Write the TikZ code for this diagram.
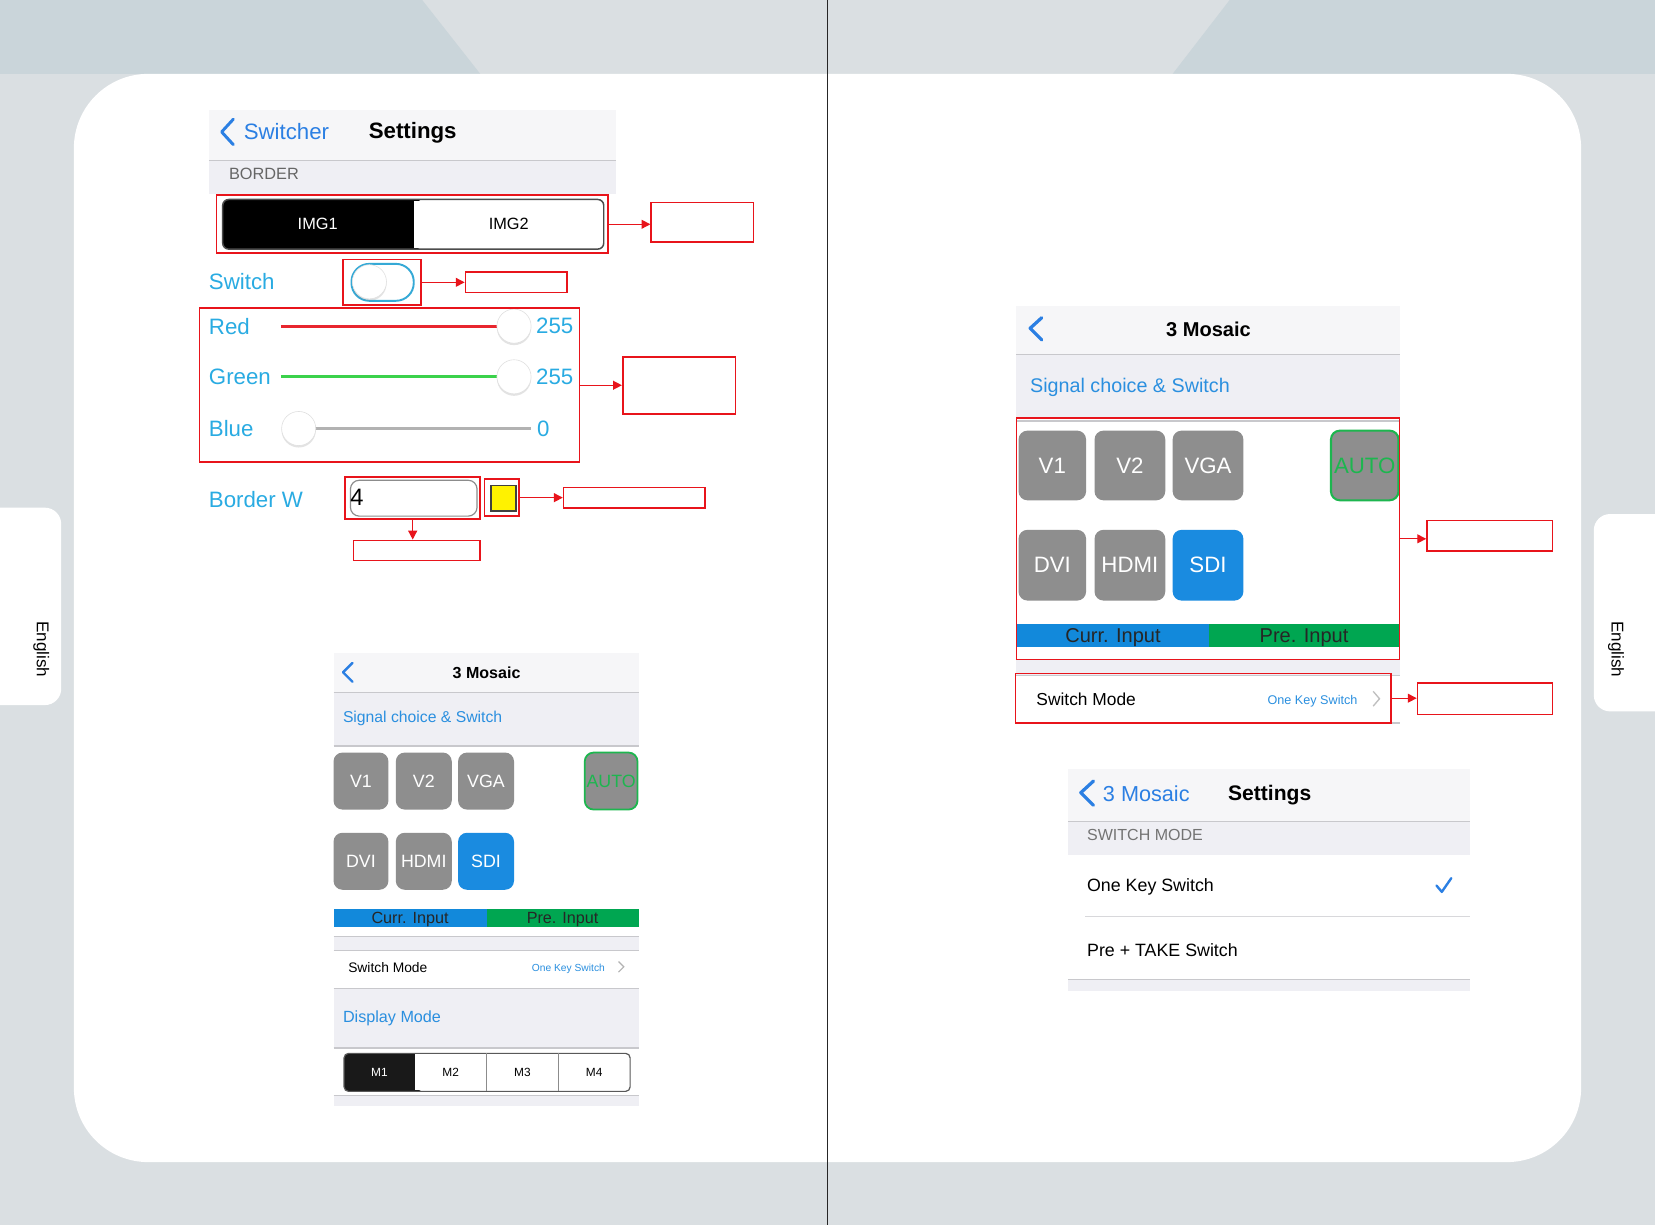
\documentclass[tikz,border=0pt]{standalone}
\usepackage{fontspec}
\setmainfont{Liberation Sans}
\usetikzlibrary{positioning,fit,arrows.meta,shadows}

\definecolor{bglight}{HTML}{DADFE2}
\definecolor{bgdark}{HTML}{CAD5DA}
\definecolor{barfill}{HTML}{F6F6F8}
\definecolor{secfill}{HTML}{EFEFF4}
\definecolor{linegray}{HTML}{C8C8CC}
\definecolor{iosblue}{HTML}{2B7FE3}
\definecolor{sigblue}{HTML}{2A8FDF}
\definecolor{cyanlabel}{HTML}{29ABE2}
\definecolor{togglecyan}{HTML}{35A9D6}
\definecolor{btngray}{HTML}{8E8E8E}
\definecolor{btnblue}{HTML}{1A8BE0}
\definecolor{autogreen}{HTML}{1DB64F}
\definecolor{currblue}{HTML}{1289DB}
\definecolor{pregreen}{HTML}{00A651}
\definecolor{markred}{HTML}{E8141B}
\definecolor{sliderred}{HTML}{E8262E}
\definecolor{slidergreen}{HTML}{3BD24B}

\newcommand{\setfs}[1]{\fontsize{#1}{#1}\selectfont}

\begin{document}
\begin{tikzpicture}[
    x=0.025cm, y=-0.025cm,
    redbox/.style={draw=markred, line width=1.1pt, inner sep=0pt},
    notebox/.style={redbox, fill=white},
    arrow/.style={-{Triangle[length=6pt,width=6pt]}, draw=markred, line width=0.9pt},
    btn/.style={fill=btngray, rounded corners=6pt, inner sep=0pt},
    sbtn/.style={btn, label={[text=white, font=\setfs{12}]center:#1}},
    bbtn/.style={btn, label={[text=white, font=\setfs{15}]center:#1}},
    cyantext/.style={anchor=west, text=cyanlabel, font=\setfs{15}},
    knob/.style={circle, fill=white, draw=black!12, minimum size=23pt, inner sep=0pt,
        drop shadow={opacity=0.22, shadow xshift=0pt, shadow yshift=-1.3pt}},
    chevron/.style={iosblue, line width=2pt, line cap=round, line join=round},
    bar/.style={inner sep=0pt}
]
\useasboundingbox (0,0) rectangle (1568,1161);
% background and page
\fill[bglight] (0,0) rectangle (1568,1161);
\fill[bgdark] (0,0) -- (400,0) -- (455,70) -- (0,70) -- cycle;
\fill[bgdark] (1165,0) -- (1568,0) -- (1568,70) -- (1111,70) -- cycle;
\fill[white, rounded corners=50pt] (70,70) rectangle (1498,1101);
\fill[white, rounded corners=11pt] (-30,481) rectangle (58,668);
\fill[white, rounded corners=11pt] (1510,487) rectangle (1600,674);
\node[rotate=-90, font=\setfs{11.5}] (tabl) at (39,615) {English};
\node[rotate=-90, font=\setfs{11.5}] (tabr) at (1531,615) {English};

% border settings screen
\fill[barfill] (198,104) rectangle (584,152);
\fill[secfill] (198,152) rectangle (584,184);
\draw[linegray, line width=0.8pt] (198,152) -- (584,152);
\draw[chevron] (221,113) -- (210,125) -- (221,137);
\node[anchor=west, text=iosblue, font=\setfs{15}] (back) at (226,125) {Switcher};
\node[font=\setfs{15}\bfseries] (title) at (391,126) {Settings};
\node[anchor=west, text=black!60, font=\setfs{11}] (border) at (212,165) {BORDER};

\fill[black, rounded corners=4pt] (211,189) rectangle (400,236);
\fill[white] (392,190) rectangle (571,235);
\draw[black!70, line width=1pt, rounded corners=4pt] (211,189) rectangle (572,236);
\node[text=white, font=\setfs{11}] (img1) at (301,212) {IMG1};
\node[font=\setfs{11}] (img2) at (482,212) {IMG2};

\node[cyantext] (switchlbl) at (193,267) {Switch};
\draw[togglecyan, line width=1.3pt, fill=white, rounded corners=12pt] (333,250) rectangle (392,285);
\node[knob] (toggle) at (350,267) {};

\node[cyantext] (redlbl) at (193,309) {Red};
\draw[sliderred, line width=2pt] (266,309) -- (486,309);
\node[knob] (redknob) at (487,309) {};
\node[cyantext] (redval) at (503,309) {255};
\node[cyantext] (greenlbl) at (193,357) {Green};
\draw[slidergreen, line width=2pt] (266,357) -- (486,357);
\node[knob] (greenknob) at (487,357) {};
\node[cyantext] (greenval) at (503,357) {255};
\node[cyantext] (bluelbl) at (193,406) {Blue};
\draw[black!30, line width=1.5pt] (283,406) -- (503,406);
\node[knob] (blueknob) at (283,406) {};
\node[cyantext] (blueval) at (504,406) {0};

\node[cyantext] (bwlbl) at (193,473) {Border W};
\draw[black!45, line width=0.8pt, rounded corners=6pt] (332,455) rectangle (452,489);
\node[anchor=west, font=\setfs{16}] (bwval) at (327,471) {4};
\fill[yellow, draw=black!75, line width=1pt] (465,460) rectangle (489,484);

% marks for the border screen
\node[redbox, fit={(205,185) (576,240)}] (imgbox) {};
\node[notebox, fit={(617,192) (714,229)}] (imgnote) {};
\node[redbox, fit={(325,246) (399,289)}] (switchbox) {};
\node[notebox, fit={(441,258) (537,277)}] (switchnote) {};
\node[redbox, fit={(189,292) (549,438)}] (sliderbox) {};
\node[notebox, fit={(590,338) (697,392)}] (slidernote) {};
\node[redbox, fit={(327,452) (455,492)}] (bwbox) {};
\node[notebox, fit={(335,512) (455,531)}] (bwnote) {};
\node[redbox, fit={(459,454) (492,489)}] (colorbox) {};
\node[notebox, fit={(534,462) (668,481)}] (colornote) {};

\draw[arrow] (imgbox.east) -- (imgbox.east -| imgnote.west);
\draw[arrow] (switchbox.east) -- (switchbox.east -| switchnote.west);
\draw[arrow] (sliderbox.east) -- (sliderbox.east -| slidernote.west);
\draw[arrow] (colorbox.east) -- (colorbox.east -| colornote.west);
\draw[arrow] (bwbox.south) -- (bwbox.south |- bwnote.north);

% small mosaic screen
\fill[barfill] (316,619) rectangle (605,656);
\fill[secfill] (316,656) rectangle (605,707);
\draw[linegray] (316,656) -- (605,656);
\draw[linegray, line width=1pt] (316,707) -- (605,707);
\draw[chevron, line width=1.6pt] (334,628) -- (325,637) -- (334,646);
\node[font=\setfs{10.8}\bfseries] (mtitle) at (461,637) {3 Mosaic};
\node[anchor=west, text=sigblue, font=\setfs{10.6}] (msig) at (320,681) {Signal choice \& Switch};
\node[sbtn=V1, fit={(316,713) (368,767)}] (mv1) {};
\node[sbtn=V2, fit={(375,713) (428,767)}] (mv2) {};
\node[sbtn=VGA, fit={(434,713) (487,767)}] (mvga) {};
\node[btn, draw=autogreen, line width=1.2pt, fit={(554,713) (604,767)},
      label={[text=autogreen, font=\setfs{12}]center:AUTO}] (mauto) {};
\node[sbtn=DVI, fit={(316,789) (368,843)}] (mdvi) {};
\node[sbtn=HDMI, fit={(375,789) (428,843)}] (mhdmi) {};
\node[sbtn=SDI, fill=btnblue, fit={(434,789) (487,843)}] (msdi) {};
\node[bar, fill=currblue, fit={(316,861) (461,878)},
      label={[text=black!85, font=\setfs{10.9}, yshift=-1pt]center:Curr. Input}] (mcurr) {};
\node[bar, fill=pregreen, fit={(461,861) (605,878)},
      label={[text=black!85, font=\setfs{10.9}, yshift=-1pt]center:Pre. Input}] (mpre) {};
\fill[secfill] (316,887) rectangle (605,900);
\draw[linegray] (316,887) -- (605,887);
\draw[linegray] (316,900) -- (605,900);
\node[anchor=west, font=\setfs{9.3}] (mmode) at (325,917) {Switch Mode};
\node[anchor=east, text=sigblue, font=\setfs{6.9}] (mkey) at (578,918) {One Key Switch};
\draw[black!30, line width=0.8pt] (586,911) -- (591,916) -- (586,921);
\fill[secfill] (316,936) rectangle (605,993);
\draw[linegray] (316,936) -- (605,936);
\draw[linegray, line width=1pt] (316,993) -- (605,993);
\node[anchor=west, text=sigblue, font=\setfs{10.9}] (mdisp) at (320,965) {Display Mode};
\fill[black!90, rounded corners=3pt] (326,998) rectangle (400,1034);
\fill[white] (393,999) rectangle (596,1033);
\draw[black!65, line width=0.8pt, rounded corners=3pt] (326,998) rectangle (597,1034);
\draw[black!45] (460.5,998) -- (460.5,1034);
\draw[black!45] (529,998) -- (529,1034);
\node[text=white, font=\setfs{8}] (m1) at (359.5,1016) {M1};
\node[font=\setfs{8}] (m2) at (427,1016) {M2};
\node[font=\setfs{8}] (m3) at (495,1016) {M3};
\node[font=\setfs{8}] (m4) at (563,1016) {M4};
\fill[secfill] (316,1038) rectangle (605,1048);
\draw[linegray] (316,1038) -- (605,1038);

% large mosaic screen
\fill[barfill] (963,290) rectangle (1326,336);
\fill[secfill] (963,336) rectangle (1326,396);
\draw[linegray] (963,336) -- (1326,336);
\draw[linegray, line width=1pt] (963,399) -- (1326,399);
\draw[chevron, line width=2.2pt] (987,301) -- (976,311) -- (987,322);
\node[font=\setfs{13.5}\bfseries] (btitle) at (1145,312) {3 Mosaic};
\node[anchor=west, text=sigblue, font=\setfs{13.3}] (bsig) at (971,367) {Signal choice \& Switch};
\node[bbtn=V1, fit={(965,408) (1029,474)}] (bv1) {};
\node[bbtn=V2, fit={(1037,408) (1104,474)}] (bv2) {};
\node[bbtn=VGA, fit={(1111,408) (1178,474)}] (bvga) {};
\node[btn, draw=autogreen, line width=1.4pt, fit={(1261,408) (1325,474)},
      label={[text=autogreen, font=\setfs{15}]center:AUTO}] (bauto) {};
\node[bbtn=DVI, fit={(965,502) (1029,569)}] (bdvi) {};
\node[bbtn=HDMI, fit={(1037,502) (1104,569)}] (bhdmi) {};
\node[bbtn=SDI, fill=btnblue, fit={(1111,502) (1178,569)}] (bsdi) {};
\node[bar, fill=currblue, fit={(964,591) (1145,613)},
      label={[text=black!85, font=\setfs{13.5}, yshift=-1.5pt]center:Curr. Input}] (bcurr) {};
\node[bar, fill=pregreen, fit={(1145,591) (1326,613)},
      label={[text=black!85, font=\setfs{13.5}, yshift=-1.5pt]center:Pre. Input}] (bpre) {};
\fill[secfill] (963,625) rectangle (1326,640);
\draw[linegray] (963,640) -- (1326,640);
\draw[linegray, line width=1pt] (963,685) -- (1326,685);
\node[anchor=west, font=\setfs{11.7}] (bmode) at (977,663) {Switch Mode};
\node[anchor=east, text=sigblue, font=\setfs{8.5}] (bkey) at (1291,664) {One Key Switch};
\draw[black!25, line width=0.9pt] (1301,655) -- (1307,662) -- (1301,669);

% marks for the large mosaic screen
\node[redbox, fit={(963,396) (1326,625)}] (inputbox) {};
\node[notebox, fit={(1352,493) (1471,522)}] (inputnote) {};
\node[redbox, fit={(962,638) (1318,685)}] (modebox) {};
\node[notebox, fit={(1343,647) (1471,677)}] (modenote) {};
\draw[arrow] (inputbox.east) -- (inputbox.east -| inputnote.west);
\draw[arrow] (modebox.east) -- (modebox.east -| modenote.west);

% switch mode settings screen
\fill[barfill] (1012,729) rectangle (1393,778);
\fill[secfill] (1012,778) rectangle (1393,810);
\draw[linegray] (1012,778) -- (1393,778);
\draw[chevron, line width=2.2pt] (1036,740) -- (1024,751) -- (1036,763);
\node[anchor=west, text=iosblue, font=\setfs{14.6}] (sback) at (1040,752) {3 Mosaic};
\node[font=\setfs{14.2}\bfseries] (stitle) at (1203,753) {Settings};
\node[anchor=west, text=black!55, font=\setfs{10.8}] (smode) at (1025,791) {SWITCH MODE};
\node[anchor=west, font=\setfs{12}] (sone) at (1025,840) {One Key Switch};
\draw[iosblue, line width=1.6pt, line cap=round, line join=round] (1361,839) -- (1366,845) -- (1375,832);
\draw[linegray!70] (1028,868) -- (1393,868);
\node[anchor=west, font=\setfs{12}] (spre) at (1025,900) {Pre + TAKE Switch};
\fill[secfill] (1012,928) rectangle (1393,939);
\draw[linegray] (1012,928) -- (1393,928);

% page divider
\draw[black!85, line width=0.7pt] (784,0) -- (784,1161);
\end{tikzpicture}
\end{document}
